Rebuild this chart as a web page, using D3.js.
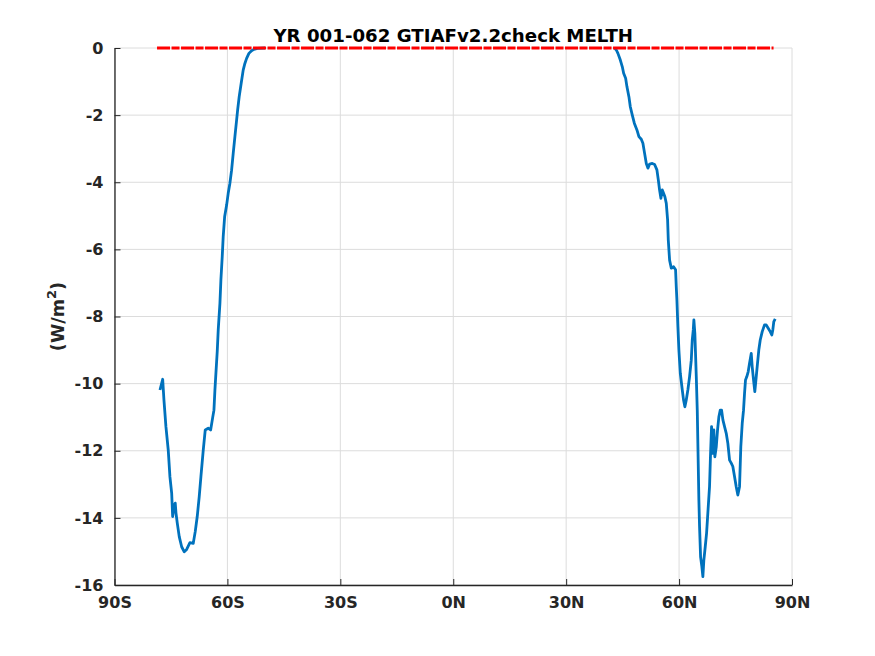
<!DOCTYPE html>
<html lang="en">
<head>
  <meta charset="UTF-8">
  <title>YR 001-062 GTIAFv2.2check MELTH</title>
  <style>
    body { margin: 0; background: #fff; }
    svg text { font-family: "DejaVu Sans", sans-serif; }
    .axis text { font-family: "DejaVu Sans", sans-serif; font-weight: bold; font-size: 16px; fill: #262626; }
    .axis path, .axis line { stroke: #262626; }
    .grid line { stroke: #dcdcdc; stroke-width: 1; }
  </style>
</head>
<body>
  <div id="chart"></div>
  <script src="https://d3js.org/d3.v7.min.js"></script>
  <script>
    // zonal mean MELTH (W/m2), [lat, value]
    const southMelt = [
      [-77.92, -10.19], [-77.20, -9.87], [-76.86, -10.49], [-76.33, -11.29], [-75.72, -11.98],
      [-75.27, -12.78], [-74.81, -13.26], [-74.55, -13.96], [-74.12, -13.62], [-73.86, -13.56],
      [-73.67, -13.85], [-73.33, -14.15], [-72.80, -14.56], [-72.16, -14.86], [-71.47, -15.01],
      [-70.83, -14.94], [-69.96, -14.74], [-69.08, -14.76], [-68.55, -14.41], [-68.02, -13.96],
      [-67.49, -13.37], [-67.04, -12.77], [-66.42, -11.98], [-65.89, -11.38], [-65.10, -11.33],
      [-64.46, -11.38], [-63.93, -11.02], [-63.58, -10.79], [-63.32, -10.19], [-63.05, -9.68],
      [-62.71, -9.05], [-62.44, -8.40], [-61.99, -7.61], [-61.73, -6.91], [-61.38, -6.22],
      [-61.12, -5.62], [-60.74, -5.03], [-60.21, -4.68], [-59.79, -4.33], [-59.34, -4.03],
      [-58.89, -3.64], [-58.46, -3.14], [-58.01, -2.64], [-57.56, -2.15], [-57.29, -1.85],
      [-56.87, -1.45], [-56.34, -1.05], [-55.81, -0.66], [-55.36, -0.46], [-54.90, -0.31],
      [-54.29, -0.16], [-53.58, -0.08], [-52.96, -0.04], [-52.0, -0.01], [-50.0, 0]
    ];
    const northMelt = [
      [42.9, 0], [43.33, -0.06], [43.75, -0.16], [44.39, -0.36], [44.92, -0.56], [45.27, -0.75],
      [45.80, -0.90], [46.14, -1.15], [46.67, -1.45], [47.04, -1.75], [47.57, -2.00], [48.11, -2.24],
      [48.80, -2.44], [49.33, -2.64], [49.96, -2.72], [50.39, -2.84], [50.84, -3.14], [51.29, -3.44],
      [51.72, -3.58], [52.17, -3.46], [52.88, -3.44], [53.50, -3.47], [54.11, -3.63], [54.48, -3.93],
      [54.82, -4.23], [55.17, -4.48], [55.54, -4.23], [55.88, -4.33], [56.23, -4.43], [56.60, -4.63],
      [56.95, -5.12], [57.13, -5.72], [57.48, -6.32], [57.93, -6.56], [58.54, -6.52], [59.07, -6.61],
      [59.25, -7.11], [59.42, -7.51], [59.68, -8.30], [59.95, -9.00], [60.32, -9.69], [60.85, -10.19],
      [61.19, -10.49], [61.54, -10.69], [61.91, -10.49], [62.33, -10.19], [62.79, -9.79], [63.24, -9.30],
      [63.50, -8.70], [63.77, -8.40], [63.93, -8.10], [64.19, -8.50], [64.57, -9.79], [64.83, -10.79],
      [65.10, -12.47], [65.26, -13.47], [65.44, -14.26], [65.71, -15.16], [66.05, -15.45], [66.32, -15.75],
      [66.58, -15.26], [66.95, -14.86], [67.30, -14.46], [67.64, -13.86], [68.09, -13.07], [68.36, -12.08],
      [68.63, -11.28], [68.81, -11.98], [68.97, -12.08], [69.24, -11.38], [69.50, -12.18], [69.88, -11.88],
      [70.22, -11.38], [70.57, -10.99], [70.94, -10.79], [71.29, -10.79], [71.64, -11.08], [72.08, -11.28],
      [72.53, -11.48], [72.96, -11.78], [73.41, -12.28], [73.86, -12.37], [74.28, -12.47], [74.73, -12.77],
      [75.18, -13.07], [75.61, -13.32], [76.06, -13.07], [76.40, -11.88], [76.78, -11.18], [77.12, -10.79],
      [77.39, -10.29], [77.65, -9.89], [78.00, -9.79], [78.37, -9.64], [78.72, -9.39], [79.17, -9.10],
      [79.43, -9.50], [79.78, -9.89], [80.12, -10.24], [80.50, -9.79], [80.84, -9.39], [81.18, -9.00],
      [81.56, -8.70], [82.09, -8.45], [82.70, -8.25], [83.15, -8.25], [83.68, -8.35], [84.21, -8.45],
      [84.64, -8.55], [84.90, -8.40], [85.17, -8.15], [85.54, -8.07]
    ];
    // zero reference line across the data latitudes
    const zeroLine = [[-78.7, 0], [85.1, 0]];

    const xTicks = [-90, -60, -30, 0, 30, 60, 90];
    const xTickLabels = ['90S', '60S', '30S', '0N', '30N', '60N', '90N'];
    const yTicks = [-16, -14, -12, -10, -8, -6, -4, -2, 0];
    const title = 'YR 001-062 GTIAFv2.2check MELTH';

    const W = 875, H = 656;
    const plotL = 114.5, plotR = 792, plotT = 48, plotB = 585;
    const FONT = '"DejaVu Sans", sans-serif';

    const x = d3.scaleLinear().domain([-90, 90]).range([plotL, plotR]);
    const y = d3.scaleLinear().domain([-16, 0]).range([plotB, plotT]);

    const svg = d3.select('#chart').append('svg')
      .attr('width', W)
      .attr('height', H);

    // grid
    svg.append('g').attr('class', 'grid')
      .selectAll('line').data(xTicks).enter().append('line')
      .attr('x1', d => x(d)).attr('x2', d => x(d))
      .attr('y1', plotT).attr('y2', plotB);
    svg.append('g').attr('class', 'grid')
      .selectAll('line').data(yTicks).enter().append('line')
      .attr('x1', plotL).attr('x2', plotR)
      .attr('y1', d => y(d)).attr('y2', d => y(d));

    // axes with inward ticks
    const xAxis = svg.append('g')
      .attr('class', 'axis')
      .attr('transform', `translate(0,${plotB})`)
      .call(d3.axisBottom(x).tickValues(xTicks)
        .tickFormat((d, i) => xTickLabels[i])
        .tickSizeInner(-6).tickSizeOuter(0).tickPadding(12));
    xAxis.attr('font-family', FONT);
    xAxis.select('.domain').attr('stroke-width', 1.3);

    const yAxis = svg.append('g')
      .attr('class', 'axis')
      .attr('transform', `translate(${plotL},0)`)
      .call(d3.axisLeft(y).tickValues(yTicks)
        .tickFormat(d => String(d))
        .tickSizeInner(-6).tickSizeOuter(0).tickPadding(11));
    yAxis.attr('font-family', FONT);
    yAxis.select('.domain').attr('stroke-width', 1.3);

    const line = d3.line()
      .x(d => x(d[0]))
      .y(d => y(d[1]));

    [southMelt, northMelt].forEach(seg => {
      svg.append('path')
        .datum(seg)
        .attr('fill', 'none')
        .attr('stroke', '#0072BD')
        .attr('stroke-width', 2.8)
        .attr('stroke-linejoin', 'round')
        .attr('d', line);
    });

    svg.append('path')
      .datum(zeroLine)
      .attr('fill', 'none')
      .attr('stroke', '#ff0000')
      .attr('stroke-width', 3)
      .attr('stroke-dasharray', '13,1.5,8,1.5')
      .attr('d', line);

    // title
    svg.append('text')
      .attr('x', (plotL + plotR) / 2)
      .attr('y', 42)
      .attr('text-anchor', 'middle')
      .style('font-family', FONT)
      .style('font-weight', 'bold')
      .style('font-size', '18.2px')
      .attr('fill', '#000')
      .text(title);

    // y label
    const yl = svg.append('text')
      .attr('transform', `translate(64,${(plotT + plotB) / 2}) rotate(-90)`)
      .attr('text-anchor', 'middle')
      .style('font-family', FONT)
      .style('font-weight', 'bold')
      .style('font-size', '17.6px')
      .attr('fill', '#262626');
    yl.append('tspan').text('(W/m');
    yl.append('tspan').attr('dy', -8).style('font-size', '13px').text('2');
    yl.append('tspan').attr('dy', 8).text(')');
  </script>
</body>
</html>
